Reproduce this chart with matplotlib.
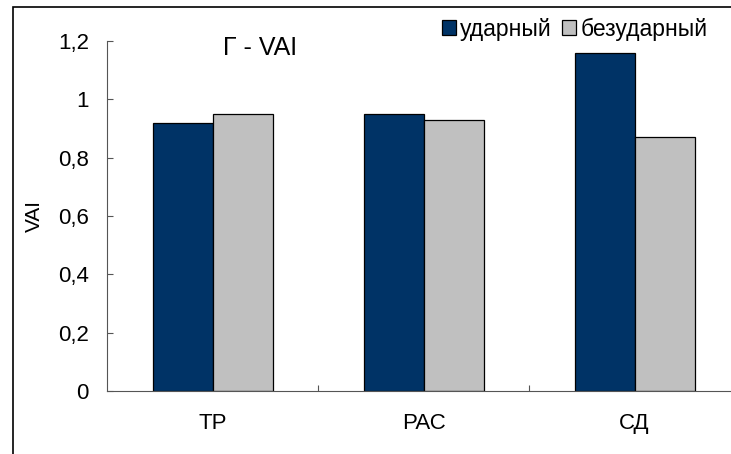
import matplotlib
matplotlib.use("Agg")
import matplotlib.pyplot as plt
import numpy as np
from matplotlib.patches import Rectangle

categories = ["ТР", "РАС", "СД"]
stressed = [0.92, 0.95, 1.16]
unstressed = [0.95, 0.93, 0.87]
series_names = ["ударный", "безударный"]
yticks = [0, 0.2, 0.4, 0.6, 0.8, 1.0, 1.2]
ytick_labels = ["0", "0,2", "0,4", "0,6", "0,8", "1", "1,2"]

plt.rcParams['font.family'] = ['Liberation Sans', 'DejaVu Sans']

W, H = 731, 454
fig = plt.figure(figsize=(W / 100, H / 100), dpi=100)

# outer frame (only left and top edges are visible in the reference)
fig.patches.append(Rectangle((13 / W, -0.1), 1.2, 1 - 7 / H + 0.1,
                             transform=fig.transFigure, fill=False,
                             edgecolor='black', linewidth=1.2))

cat_w = 211
ax = fig.add_axes([107 / W, 1 - 391 / H, 3 * cat_w / W, 350 / H])

x = np.arange(len(categories))
bw = 60 / cat_w
ax.bar(x - bw / 2, stressed, bw, color='#003366', edgecolor='black',
       linewidth=0.9, label=series_names[0])
ax.bar(x + bw / 2, unstressed, bw, color='#C0C0C0', edgecolor='black',
       linewidth=0.9, label=series_names[1])

ax.set_xlim(-0.5, len(categories) - 0.5)
ax.set_ylim(0, 1.2)
ax.set_yticks(yticks)
ax.set_yticklabels(ytick_labels, fontsize=16)
ax.set_xticks(x)
ax.set_xticklabels(categories, fontsize=16)
ax.set_xticks(np.arange(len(categories)) + 0.5, minor=True)
ax.tick_params(axis='y', direction='in', length=4.5, width=0.8, pad=13, color='#555555')
ax.tick_params(axis='x', which='major', length=0, pad=16)
ax.tick_params(axis='x', which='minor', direction='in', length=4.5, width=0.8, color='#555555')

ax.spines['top'].set_visible(False)
ax.spines['right'].set_visible(False)
ax.spines['left'].set_color('#555555')
ax.spines['bottom'].set_color('#555555')
ax.set_ylabel("VAI", fontsize=15, labelpad=10)

fig.text(260 / W, 1 - 48 / H, "Г - VAI", fontsize=18, ha='center', va='center')

fig.legend(loc='center', bbox_to_anchor=(575 / W, 1 - 29 / H), ncol=2,
           frameon=False, fontsize=16.5, handlelength=0.6, handleheight=0.6,
           handletextpad=0.2, columnspacing=0.45, borderpad=0)

fig.savefig("out.png", dpi=100)
